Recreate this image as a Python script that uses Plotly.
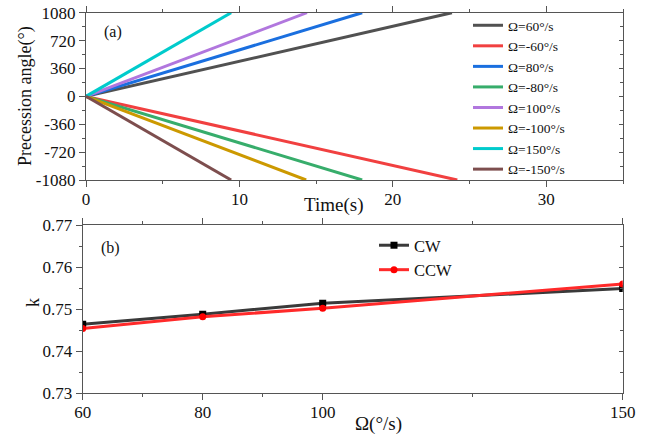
import plotly.graph_objects as go

# ---- data: panel (a) ----
rates = ["Ω=60°/s", "Ω=-60°/s", "Ω=80°/s", "Ω=-80°/s",
         "Ω=100°/s", "Ω=-100°/s", "Ω=150°/s", "Ω=-150°/s"]
end_times = [23.85, 24.2, 18.0, 18.0, 14.4, 14.35, 9.46, 9.46]
end_angles = [1080, -1080, 1080, -1080, 1080, -1080, 1080, -1080]
colors_a = ["#515151", "#F14040", "#1A6FDF", "#37AD6B",
            "#B177DE", "#CC9900", "#00CBCC", "#7D4E4E"]
angle_ticks = [-1080, -720, -360, 0, 360, 720, 1080]
angle_labels = ["-1080", "-720", "-360", "0", "360", "720", "1080"]

# ---- data: panel (b) ----
omega = [60, 80, 100, 150]
k_cw = [0.7464, 0.7488, 0.7514, 0.7549]
k_ccw = [0.7454, 0.7482, 0.7502, 0.7560]
omega_ticks = [60, 80, 100, 150]
omega_minor = [70, 90, 125]

FONT = "Liberation Serif"
W, H = 651, 438
TXT = "#111111"
axcol = "#555555"

fig = go.Figure()
for name, te, ae, c in zip(rates, end_times, end_angles, colors_a):
    fig.add_trace(go.Scatter(x=[0, te], y=[0, ae], mode="lines", name=name,
                             line=dict(color=c, width=3),
                             xaxis="x", yaxis="y", legend="legend"))

fig.add_trace(go.Scatter(x=omega, y=k_cw, mode="lines+markers", name="CW",
                         line=dict(color="#3a3a3a", width=3),
                         marker=dict(symbol="square", size=7, color="#000000"),
                         xaxis="x2", yaxis="y2", legend="legend2"))
fig.add_trace(go.Scatter(x=omega, y=k_ccw, mode="lines+markers", name="CCW",
                         line=dict(color="#FF2A2A", width=3),
                         marker=dict(symbol="circle", size=7, color="#FF0000"),
                         xaxis="x2", yaxis="y2", legend="legend2"))

# transparent helper traces so overlay tick axes render
for xa, ya, xs, ys in [("x3", "y2", omega, k_cw), ("x", "y3", end_times, end_angles),
                       ("x2", "y4", omega, k_ccw)]:
    fig.add_trace(go.Scatter(x=xs, y=ys, xaxis=xa, yaxis=ya, mode="lines",
                             line=dict(width=0, color="rgba(0,0,0,0)"),
                             showlegend=False, hoverinfo="skip"))

tickfont = dict(family=FONT, size=17, color=TXT)
base = dict(showline=True, linecolor=axcol, linewidth=1.2,
            ticks="outside", ticklen=6, tickwidth=1.2, tickcolor=axcol,
            showgrid=False, zeroline=False, tickfont=tickfont)


def px_x(p):
    return p / W


def px_y(p):
    return 1 - p / H


XA = [px_x(86), px_x(623)]
XB = [px_x(82.7), px_x(622.7)]
YA = [px_y(180), px_y(12.7)]
YB = [px_y(393.3), px_y(225)]

fig.update_layout(
    width=W, height=H,
    margin=dict(l=0, r=0, t=0, b=0, autoexpand=False),
    paper_bgcolor="white", plot_bgcolor="white",
    font=dict(family=FONT, color=TXT),
    xaxis=dict(domain=XA, range=[0, 35], dtick=10, anchor="y", mirror="ticks",
               ticklabelstandoff=-3,
               minor=dict(dtick=5, ticklen=3, tickcolor=axcol, ticks="outside"),
               **base),
    yaxis=dict(domain=YA, range=[-1080, 1080], tickvals=angle_ticks,
               ticktext=angle_labels, anchor="x", mirror=True,
               minor=dict(dtick=180, tick0=0, ticklen=3, tickcolor=axcol, ticks="outside"),
               **base),
    yaxis3=dict(domain=YA, range=[-1080, 1080], tickvals=angle_ticks, anchor="x",
                overlaying="y", side="right", showticklabels=False,
                ticks="inside", ticklen=4, tickwidth=1.2, tickcolor=axcol,
                minor=dict(dtick=180, tick0=0, ticklen=3, tickcolor=axcol, ticks="inside"),
                showline=False, showgrid=False, zeroline=False),
    xaxis2=dict(domain=XB, range=[60, 150], tickvals=omega_ticks, anchor="y2",
                mirror="ticks", ticklabelstandoff=-3, **base),
    xaxis3=dict(domain=XB, range=[60, 150], overlaying="x2", anchor="y2",
                tickvals=omega_minor, showticklabels=False, ticks="outside",
                ticklen=3, tickwidth=1.2, tickcolor=axcol, mirror="ticks",
                showline=False, showgrid=False, zeroline=False),
    yaxis2=dict(domain=YB, range=[0.73, 0.77], dtick=0.01, tickformat=".2f",
                anchor="x2", mirror=True,
                minor=dict(dtick=0.005, tick0=0.73, ticklen=3, tickcolor=axcol, ticks="outside"),
                **base),
    yaxis4=dict(domain=YB, range=[0.73, 0.77], dtick=0.01, anchor="x2",
                overlaying="y2", side="right", showticklabels=False,
                ticks="inside", ticklen=4, tickwidth=1.2, tickcolor=axcol,
                minor=dict(dtick=0.005, tick0=0.73, ticklen=3, tickcolor=axcol, ticks="inside"),
                showline=False, showgrid=False, zeroline=False),
    legend=dict(x=px_x(468), y=px_y(10), xanchor="left", yanchor="top",
                bgcolor="rgba(0,0,0,0)", tracegroupgap=0,
                font=dict(family=FONT, size=13.5, color=TXT)),
    legend2=dict(x=px_x(374), y=px_y(228), xanchor="left", yanchor="top",
                 bgcolor="rgba(0,0,0,0)", tracegroupgap=0,
                 font=dict(family=FONT, size=16.5, color=TXT)),
)

ann = [
    dict(text="(a)", x=px_x(113), y=px_y(32), size=16),
    dict(text="(b)", x=px_x(110), y=px_y(248), size=16),
    dict(text="Time(s)", x=px_x(333), y=px_y(205), size=19),
    dict(text="Ω(°/s)", x=px_x(378), y=px_y(424), size=19),
]
for a in ann:
    fig.add_annotation(text=a["text"], x=a["x"], y=a["y"], xref="paper", yref="paper",
                       showarrow=False, xanchor="center", yanchor="middle",
                       font=dict(family=FONT, size=a["size"], color=TXT))
fig.add_annotation(text="Precession angle(°)", x=px_x(25), y=px_y(96), xref="paper",
                   yref="paper", showarrow=False, textangle=-90,
                   xanchor="center", yanchor="middle",
                   font=dict(family=FONT, size=18, color=TXT))
fig.add_annotation(text="k", x=px_x(33), y=px_y(303), xref="paper",
                   yref="paper", showarrow=False, textangle=-90,
                   xanchor="center", yanchor="middle",
                   font=dict(family=FONT, size=18, color=TXT))

fig.write_html("out.html")
